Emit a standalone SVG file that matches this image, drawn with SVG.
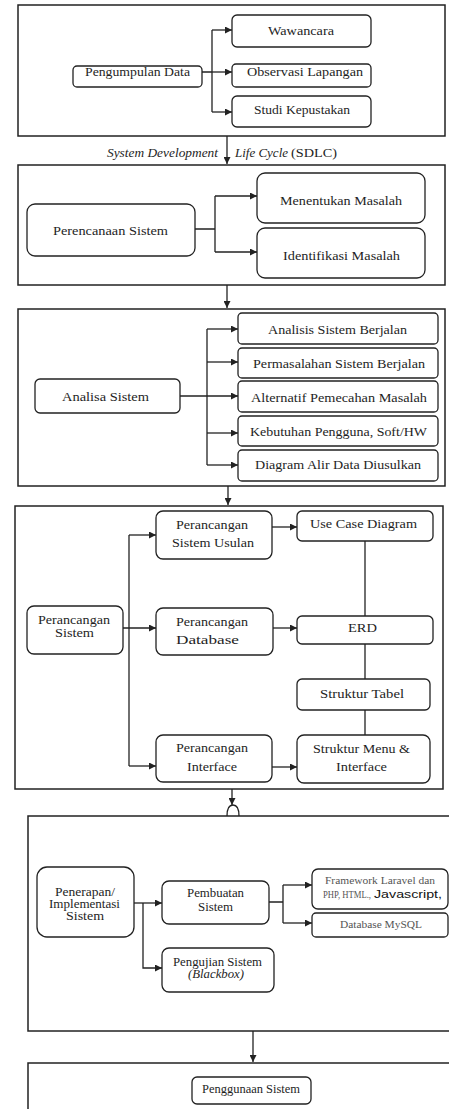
<svg xmlns="http://www.w3.org/2000/svg" width="449" height="1109" viewBox="0 0 449 1109">
<style>
.frame{fill:#fff;stroke:#222;stroke-width:1.5}
.node{fill:#fff;stroke:#222;stroke-width:1.3}
.ln{fill:none;stroke:#222;stroke-width:1.3}
.t{font-family:"Liberation Serif","Times New Roman",serif;font-size:12px;fill:#1e1e1e}
.i{font-style:italic}
.g{font-size:10px;fill:#555}
.js{font-family:"Liberation Sans",Arial,sans-serif;font-size:11px;fill:#111}
</style>
<defs>
<marker id="ah" markerWidth="7" markerHeight="7" refX="7" refY="3.5" orient="auto" markerUnits="userSpaceOnUse">
<path d="M0,0 L7,3.5 L0,7 z" fill="#222"/>
</marker>
</defs>
<rect width="449" height="1109" fill="#fff"/>

<g id="frames">
<rect class="frame" x="18" y="5" width="427" height="131"/>
<rect class="frame" x="18" y="165" width="427" height="120"/>
<rect class="frame" x="18" y="309" width="427" height="177"/>
<rect class="frame" x="15" y="506" width="428" height="283"/>
<rect class="frame" x="28" y="816" width="440" height="215"/>
<rect class="frame" x="28" y="1063" width="440" height="80"/>
</g>

<g id="connectors">
<path class="ln" d="M202,72 H212 M212,30 V112"/>
<path class="ln" d="M212,30 H232" marker-end="url(#ah)"/>
<path class="ln" d="M212,72 H232" marker-end="url(#ah)"/>
<path class="ln" d="M212,112 H232" marker-end="url(#ah)"/>
<path class="ln" d="M227,136 V164" marker-end="url(#ah)"/>

<path class="ln" d="M195,229 H215 M215,196 V252"/>
<path class="ln" d="M215,196 H257" marker-end="url(#ah)"/>
<path class="ln" d="M215,252 H257" marker-end="url(#ah)"/>
<path class="ln" d="M227,285 V308" marker-end="url(#ah)"/>

<path class="ln" d="M207,329 V465"/>
<path class="ln" d="M180,396 H238" marker-end="url(#ah)"/>
<path class="ln" d="M207,329 H238" marker-end="url(#ah)"/>
<path class="ln" d="M207,362 H238" marker-end="url(#ah)"/>
<path class="ln" d="M207,433 H238" marker-end="url(#ah)"/>
<path class="ln" d="M207,465 H238" marker-end="url(#ah)"/>
<path class="ln" d="M228,486 V505" marker-end="url(#ah)"/>

<path class="ln" d="M272,527 H297" marker-end="url(#ah)"/>
<path class="ln" d="M365,541 V616"/>
<path class="ln" d="M129,535 V766"/>
<path class="ln" d="M129,535 H156" marker-end="url(#ah)"/>
<path class="ln" d="M123,628 H156" marker-end="url(#ah)"/>
<path class="ln" d="M129,766 H156" marker-end="url(#ah)"/>
<path class="ln" d="M273,628 H297" marker-end="url(#ah)"/>
<path class="ln" d="M365,644 V679 M365,710 V735"/>
<path class="ln" d="M272,767 H297" marker-end="url(#ah)"/>

<path class="ln" d="M232,789 V805" marker-end="url(#ah)"/>
<path class="ln" d="M227,816 C227,809 229.5,805 233,805 C236.5,805 239,809 239,816"/>

<path class="ln" d="M134,903 H162" marker-end="url(#ah)"/>
<path class="ln" d="M143,903 V968 H162" marker-end="url(#ah)"/>
<path class="ln" d="M269,902 H283 M283,885 V923"/>
<path class="ln" d="M283,885 H312" marker-end="url(#ah)"/>
<path class="ln" d="M283,923 H312" marker-end="url(#ah)"/>
<path class="ln" d="M253,1031 V1062" marker-end="url(#ah)"/>
</g>

<g id="sdlc-label">
<text class="t i" x="107" y="157" textLength="111" lengthAdjust="spacingAndGlyphs">System Development</text>
<text class="t i" x="235" y="157" textLength="53" lengthAdjust="spacingAndGlyphs">Life Cycle</text>
<text class="t" x="291" y="157" textLength="46" lengthAdjust="spacingAndGlyphs">(SDLC)</text>
</g>

<g id="pengumpulan-data">
<rect class="node" x="73" y="66" width="129" height="21" rx="4"/>
<text class="t" x="85" y="76" textLength="105" lengthAdjust="spacingAndGlyphs">Pengumpulan Data</text>
</g>
<g id="wawancara">
<rect class="node" x="232" y="15" width="139" height="32" rx="5"/>
<text class="t" x="268" y="35" textLength="66" lengthAdjust="spacingAndGlyphs">Wawancara</text>
</g>
<g id="observasi">
<rect class="node" x="232" y="64" width="139" height="23" rx="4"/>
<text class="t" x="247" y="76" textLength="116" lengthAdjust="spacingAndGlyphs">Observasi Lapangan</text>
</g>
<g id="studi">
<rect class="node" x="232" y="96" width="139" height="31" rx="5"/>
<text class="t" x="254" y="114" textLength="96" lengthAdjust="spacingAndGlyphs">Studi Kepustakan</text>
</g>

<g id="perencanaan-sistem">
<rect class="node" x="27" y="204" width="168" height="52" rx="8"/>
<text class="t" x="53" y="235" textLength="115" lengthAdjust="spacingAndGlyphs">Perencanaan Sistem</text>
</g>
<g id="menentukan">
<rect class="node" x="257" y="173" width="168" height="50" rx="8"/>
<text class="t" x="280" y="205" textLength="122" lengthAdjust="spacingAndGlyphs">Menentukan Masalah</text>
</g>
<g id="identifikasi">
<rect class="node" x="257" y="228" width="168" height="50" rx="8"/>
<text class="t" x="283" y="260" textLength="117" lengthAdjust="spacingAndGlyphs">Identifikasi Masalah</text>
</g>

<g id="analisa-sistem">
<rect class="node" x="35" y="379" width="145" height="34" rx="5"/>
<text class="t" x="62" y="401" textLength="87" lengthAdjust="spacingAndGlyphs">Analisa Sistem</text>
</g>
<g id="analisis-berjalan">
<rect class="node" x="238" y="313" width="200" height="31" rx="4"/>
<text class="t" x="268" y="334" textLength="139" lengthAdjust="spacingAndGlyphs">Analisis Sistem Berjalan</text>
</g>
<g id="permasalahan">
<rect class="node" x="238" y="348" width="200" height="30" rx="4"/>
<text class="t" x="253" y="368" textLength="172" lengthAdjust="spacingAndGlyphs">Permasalahan Sistem Berjalan</text>
</g>
<g id="alternatif">
<rect class="node" x="238" y="381" width="200" height="31" rx="4"/>
<text class="t" x="251" y="402" textLength="176" lengthAdjust="spacingAndGlyphs">Alternatif Pemecahan Masalah</text>
</g>
<g id="kebutuhan">
<rect class="node" x="238" y="416" width="200" height="30" rx="4"/>
<text class="t" x="250" y="436" textLength="177" lengthAdjust="spacingAndGlyphs">Kebutuhan Pengguna, Soft/HW</text>
</g>
<g id="diagram-alir">
<rect class="node" x="238" y="450" width="200" height="31" rx="4"/>
<text class="t" x="255" y="469" textLength="166" lengthAdjust="spacingAndGlyphs">Diagram Alir Data Diusulkan</text>
</g>

<g id="perancangan-sistem">
<rect class="node" x="27" y="606" width="96" height="48" rx="7"/>
<text class="t" x="38" y="624" textLength="72" lengthAdjust="spacingAndGlyphs">Perancangan</text>
<text class="t" x="55" y="637" textLength="39" lengthAdjust="spacingAndGlyphs">Sistem</text>
</g>
<g id="perancangan-usulan">
<rect class="node" x="156" y="511" width="116" height="48" rx="7"/>
<text class="t" x="176" y="529" textLength="72" lengthAdjust="spacingAndGlyphs">Perancangan</text>
<text class="t" x="172" y="547" textLength="82" lengthAdjust="spacingAndGlyphs">Sistem Usulan</text>
</g>
<g id="use-case">
<rect class="node" x="297" y="511" width="136" height="30" rx="5"/>
<text class="t" x="310" y="528" textLength="107" lengthAdjust="spacingAndGlyphs">Use Case Diagram</text>
</g>
<g id="perancangan-database">
<rect class="node" x="156" y="608" width="117" height="47" rx="7"/>
<text class="t" x="176" y="626" textLength="72" lengthAdjust="spacingAndGlyphs">Perancangan</text>
<text class="t" x="176" y="644" textLength="63" lengthAdjust="spacingAndGlyphs">Database</text>
</g>
<g id="erd">
<rect class="node" x="297" y="616" width="136" height="28" rx="5"/>
<text class="t" x="348" y="632" textLength="29" lengthAdjust="spacingAndGlyphs">ERD</text>
</g>
<g id="struktur-tabel">
<rect class="node" x="297" y="679" width="133" height="31" rx="5"/>
<text class="t" x="320" y="698" textLength="84" lengthAdjust="spacingAndGlyphs">Struktur Tabel</text>
</g>
<g id="perancangan-interface">
<rect class="node" x="156" y="735" width="116" height="47" rx="7"/>
<text class="t" x="176" y="752" textLength="72" lengthAdjust="spacingAndGlyphs">Perancangan</text>
<text class="t" x="187" y="771" textLength="50" lengthAdjust="spacingAndGlyphs">Interface</text>
</g>
<g id="struktur-menu">
<rect class="node" x="297" y="735" width="133" height="48" rx="7"/>
<text class="t" x="313" y="753" textLength="97" lengthAdjust="spacingAndGlyphs">Struktur Menu &amp;</text>
<text class="t" x="336" y="771" textLength="51" lengthAdjust="spacingAndGlyphs">Interface</text>
</g>

<g id="penerapan">
<rect class="node" x="37" y="867" width="97" height="70" rx="10"/>
<text class="t" x="55" y="896" textLength="60" lengthAdjust="spacingAndGlyphs">Penerapan/</text>
<text class="t" x="49" y="908" textLength="71" lengthAdjust="spacingAndGlyphs">Implementasi</text>
<text class="t" x="66" y="920" textLength="38" lengthAdjust="spacingAndGlyphs">Sistem</text>
</g>
<g id="pembuatan">
<rect class="node" x="162" y="881" width="107" height="43" rx="7"/>
<text class="t" x="187" y="897" textLength="57" lengthAdjust="spacingAndGlyphs">Pembuatan</text>
<text class="t" x="198" y="911" textLength="35" lengthAdjust="spacingAndGlyphs">Sistem</text>
</g>
<g id="framework">
<rect class="node" x="312" y="869" width="136" height="40" rx="6"/>
<text class="t g" x="325" y="884" textLength="110" lengthAdjust="spacingAndGlyphs">Framework Laravel dan</text>
<text class="t g" x="323" y="898" textLength="48" lengthAdjust="spacingAndGlyphs">PHP, HTML.,</text>
<text class="js" x="374" y="898" textLength="68" lengthAdjust="spacingAndGlyphs">Javascript,</text>
</g>
<g id="database-mysql">
<rect class="node" x="312" y="913" width="136" height="24" rx="4"/>
<text class="t g" x="340" y="928" textLength="82" lengthAdjust="spacingAndGlyphs">Database MySQL</text>
</g>
<g id="pengujian">
<rect class="node" x="162" y="948" width="112" height="44" rx="7"/>
<text class="t" x="173" y="966" textLength="89" lengthAdjust="spacingAndGlyphs">Pengujian Sistem</text>
<text class="t i" x="188" y="978" textLength="56" lengthAdjust="spacingAndGlyphs">(Blackbox)</text>
</g>

<g id="penggunaan">
<rect class="node" x="192" y="1077" width="119" height="27" rx="5"/>
<text class="t" x="202" y="1093" textLength="98" lengthAdjust="spacingAndGlyphs">Penggunaan Sistem</text>
</g>
</svg>
